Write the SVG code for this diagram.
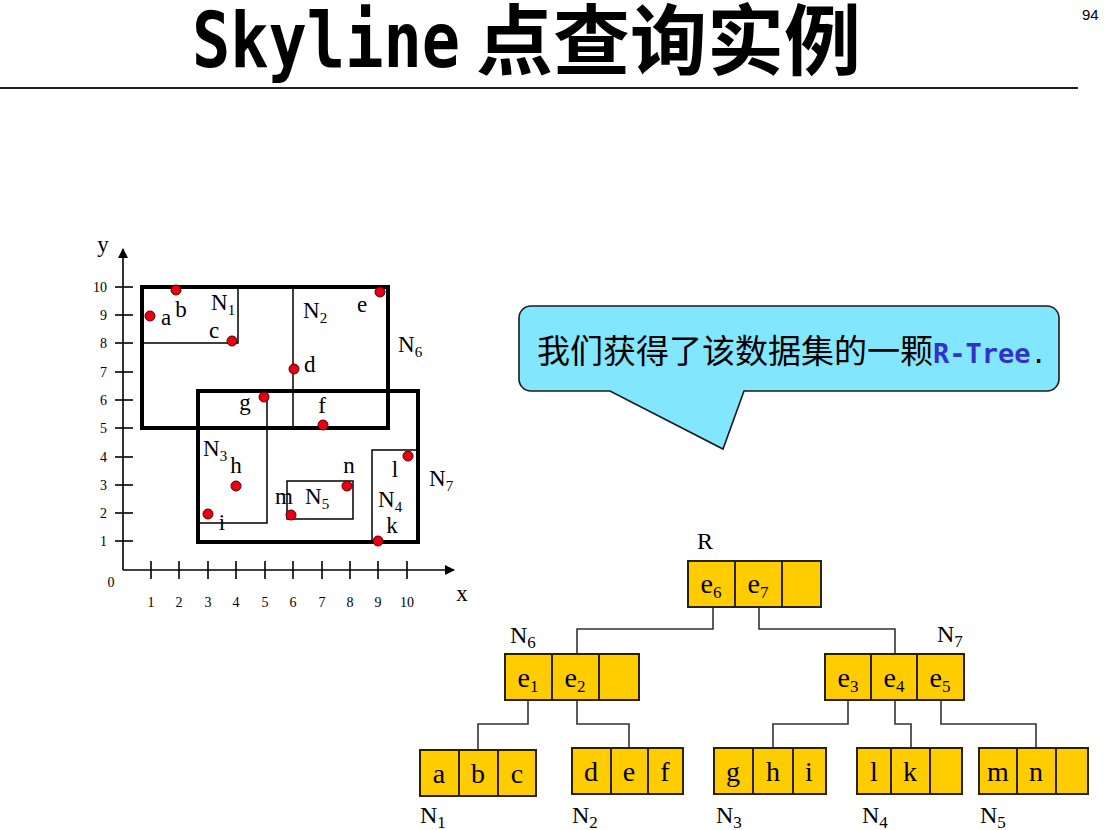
<svg xmlns="http://www.w3.org/2000/svg" width="1116" height="830" viewBox="0 0 1116 830">
<defs>
<style>
.ser{font-family:"Liberation Serif","Times New Roman",serif;fill:#000}
.lbl{font-size:23px}
.tick{font-size:14px}
.sub{font-size:15px}
.tsub{font-size:17px}
.thick{fill:none;stroke:#000;stroke-width:4}
.thin{fill:none;stroke:#000;stroke-width:1.5}
.dot{fill:#e60012;stroke:#5a0000;stroke-width:1}
.cell{fill:#ffcc00;stroke:#2b2200;stroke-width:2}
.conn{fill:none;stroke:#333;stroke-width:1.6}
.big{font-size:28px}
.nl{font-size:24px}
</style>
<marker id="arr" viewBox="0 0 10 10" refX="9" refY="5" markerWidth="10" markerHeight="10" markerUnits="userSpaceOnUse" orient="auto">
<path d="M0,0 L10,5 L0,10 Z" fill="#000"/>
</marker>
</defs>
<rect width="1116" height="830" fill="#fff"/>

<g id="title">
<text x="192" y="67" font-family="DejaVu Sans Mono,monospace" font-weight="bold" font-size="76" textLength="268" lengthAdjust="spacingAndGlyphs">Skyline</text>
<text x="476" y="69" font-family="Noto Sans CJK SC,sans-serif" font-weight="bold" font-size="77">点查询实例</text>
<text x="1082" y="20" font-family="Liberation Sans,Arial,sans-serif" font-size="15">94</text>
<line x1="0" y1="88" x2="1078" y2="88" stroke="#222" stroke-width="2"/>
</g>

<g id="axes">
<line x1="123" y1="570" x2="123" y2="249" stroke="#000" stroke-width="1.6" marker-end="url(#arr)"/>
<line x1="123" y1="570" x2="454" y2="570" stroke="#000" stroke-width="1.6" marker-end="url(#arr)"/>
<g stroke="#000" stroke-width="1.6">
<line x1="115" y1="287" x2="133" y2="287"/><line x1="115" y1="315" x2="133" y2="315"/>
<line x1="115" y1="343" x2="133" y2="343"/><line x1="115" y1="372" x2="133" y2="372"/>
<line x1="115" y1="400" x2="133" y2="400"/><line x1="115" y1="428" x2="133" y2="428"/>
<line x1="115" y1="457" x2="133" y2="457"/><line x1="115" y1="485" x2="133" y2="485"/>
<line x1="115" y1="513" x2="133" y2="513"/><line x1="115" y1="541" x2="133" y2="541"/>
<line x1="151" y1="561" x2="151" y2="579"/><line x1="179" y1="561" x2="179" y2="579"/>
<line x1="208" y1="561" x2="208" y2="579"/><line x1="236" y1="561" x2="236" y2="579"/>
<line x1="265" y1="561" x2="265" y2="579"/><line x1="293" y1="561" x2="293" y2="579"/>
<line x1="322" y1="561" x2="322" y2="579"/><line x1="350" y1="561" x2="350" y2="579"/>
<line x1="378" y1="561" x2="378" y2="579"/><line x1="407" y1="561" x2="407" y2="579"/>
</g>
<g class="ser tick" text-anchor="end">
<text x="107" y="292">10</text><text x="107" y="320">9</text><text x="107" y="348">8</text>
<text x="107" y="377">7</text><text x="107" y="405">6</text><text x="107" y="433">5</text>
<text x="107" y="462">4</text><text x="107" y="490">3</text><text x="107" y="518">2</text>
<text x="107" y="546">1</text>
</g>
<g class="ser tick" text-anchor="middle">
<text x="111" y="587">0</text>
<text x="151" y="607">1</text><text x="179" y="607">2</text><text x="208" y="607">3</text>
<text x="236" y="607">4</text><text x="265" y="607">5</text><text x="293" y="607">6</text>
<text x="322" y="607">7</text><text x="350" y="607">8</text><text x="378" y="607">9</text>
<text x="407" y="607">10</text>
</g>
<text class="ser" font-size="23" x="103" y="252" text-anchor="middle">y</text>
<text class="ser" font-size="23" x="462" y="601" text-anchor="middle">x</text>
</g>

<g id="mbrs">
<rect class="thick" x="142" y="287" width="246" height="141"/>
<rect class="thick" x="198" y="391" width="220" height="151"/>
<path class="thin" d="M142,343 H238 V287"/>
<line class="thin" x1="293" y1="287" x2="293" y2="428"/>
<path class="thin" d="M267,397 V523 H198"/>
<rect class="thin" x="287" y="481" width="66" height="38"/>
<rect class="thin" x="372" y="450" width="46" height="92"/>
</g>

<g id="points">
<circle class="dot" cx="150" cy="316" r="5"/>
<circle class="dot" cx="176" cy="290" r="5"/>
<circle class="dot" cx="232" cy="341" r="5"/>
<circle class="dot" cx="294" cy="369" r="5"/>
<circle class="dot" cx="380" cy="292" r="5"/>
<circle class="dot" cx="323" cy="425" r="5"/>
<circle class="dot" cx="264" cy="397" r="5"/>
<circle class="dot" cx="236" cy="486" r="5"/>
<circle class="dot" cx="208" cy="514" r="5"/>
<circle class="dot" cx="291" cy="515" r="5"/>
<circle class="dot" cx="347" cy="486" r="5"/>
<circle class="dot" cx="408" cy="456" r="5"/>
<circle class="dot" cx="378" cy="541" r="5"/>
</g>

<g id="plot-labels" class="ser lbl">
<text x="166" y="325" text-anchor="middle">a</text>
<text x="181" y="317" text-anchor="middle">b</text>
<text x="211" y="310">N<tspan class="sub" dy="5">1</tspan></text>
<text x="214" y="338" text-anchor="middle">c</text>
<text x="303" y="318">N<tspan class="sub" dy="5">2</tspan></text>
<text x="362" y="312" text-anchor="middle">e</text>
<text x="304" y="372">d</text>
<text x="245" y="410" text-anchor="middle">g</text>
<text x="322" y="413" text-anchor="middle">f</text>
<text x="398" y="352">N<tspan class="sub" dy="5">6</tspan></text>
<text x="203" y="456">N<tspan class="sub" dy="5">3</tspan></text>
<text x="236" y="473" text-anchor="middle">h</text>
<text x="222" y="530" text-anchor="middle">i</text>
<text x="284" y="504" text-anchor="middle">m</text>
<text x="305" y="504">N<tspan class="sub" dy="5">5</tspan></text>
<text x="349" y="473" text-anchor="middle">n</text>
<text x="395" y="477" text-anchor="middle">l</text>
<text x="378" y="507">N<tspan class="sub" dy="5">4</tspan></text>
<text x="392" y="533" text-anchor="middle">k</text>
<text x="429" y="486">N<tspan class="sub" dy="5">7</tspan></text>
</g>

<g id="callout">
<path d="M531,306 H1047 A12,12 0 0 1 1059,318 V379 A12,12 0 0 1 1047,391 H744 L723,449 L610,391 H531 A12,12 0 0 1 519,379 V318 A12,12 0 0 1 531,306 Z" fill="#82e6fc" stroke="#1a1a1a" stroke-width="1.6"/>
<text x="537" y="363" font-family="Noto Sans CJK SC,sans-serif" font-size="33" fill="#000">我们获得了该数据集的一颗<tspan font-family="DejaVu Sans Mono,monospace" font-weight="bold" font-size="27" fill="#3232c8">R-Tree</tspan><tspan font-family="DejaVu Sans Mono,monospace" font-size="27">.</tspan></text>
</g>

<g id="connectors">
<path class="conn" d="M713,607 V629 H577 V654"/>
<path class="conn" d="M759,607 V629 H895 V654"/>
<path class="conn" d="M528,700 V724 H478 V750"/>
<path class="conn" d="M577,700 V724 H629 V748"/>
<path class="conn" d="M848,700 V724 H773 V748"/>
<path class="conn" d="M895,700 V724 H911 V748"/>
<path class="conn" d="M941,700 V724 H1036 V748"/>
</g>

<g id="node-R">
<rect class="cell" x="688" y="561" width="47" height="46"/>
<rect class="cell" x="735" y="561" width="47" height="46"/>
<rect class="cell" x="782" y="561" width="39" height="46"/>
<text class="ser big" x="711" y="593" text-anchor="middle">e<tspan class="tsub" dy="5">6</tspan></text>
<text class="ser big" x="758" y="593" text-anchor="middle">e<tspan class="tsub" dy="5">7</tspan></text>
<text class="ser nl" x="705" y="549" text-anchor="middle">R</text>
</g>

<g id="node-N6">
<rect class="cell" x="505" y="654" width="47" height="46"/>
<rect class="cell" x="552" y="654" width="47" height="46"/>
<rect class="cell" x="599" y="654" width="40" height="46"/>
<text class="ser big" x="528" y="687" text-anchor="middle">e<tspan class="tsub" dy="5">1</tspan></text>
<text class="ser big" x="575" y="687" text-anchor="middle">e<tspan class="tsub" dy="5">2</tspan></text>
<text class="ser nl" x="510" y="643">N<tspan class="tsub" dy="5">6</tspan></text>
</g>

<g id="node-N7">
<rect class="cell" x="825" y="654" width="46" height="46"/>
<rect class="cell" x="871" y="654" width="46" height="46"/>
<rect class="cell" x="917" y="654" width="47" height="46"/>
<text class="ser big" x="848" y="687" text-anchor="middle">e<tspan class="tsub" dy="5">3</tspan></text>
<text class="ser big" x="894" y="687" text-anchor="middle">e<tspan class="tsub" dy="5">4</tspan></text>
<text class="ser big" x="940" y="687" text-anchor="middle">e<tspan class="tsub" dy="5">5</tspan></text>
<text class="ser nl" x="937" y="642">N<tspan class="tsub" dy="5">7</tspan></text>
</g>

<g id="leaf-N1">
<rect class="cell" x="420" y="750" width="39" height="46"/>
<rect class="cell" x="459" y="750" width="39" height="46"/>
<rect class="cell" x="498" y="750" width="38" height="46"/>
<text class="ser big" x="439" y="783" text-anchor="middle">a</text>
<text class="ser big" x="478" y="783" text-anchor="middle">b</text>
<text class="ser big" x="517" y="783" text-anchor="middle">c</text>
<text class="ser nl" x="420" y="823">N<tspan class="tsub" dy="5">1</tspan></text>
</g>

<g id="leaf-N2">
<rect class="cell" x="572" y="748" width="39" height="46"/>
<rect class="cell" x="611" y="748" width="37" height="46"/>
<rect class="cell" x="648" y="748" width="35" height="46"/>
<text class="ser big" x="591" y="781" text-anchor="middle">d</text>
<text class="ser big" x="629" y="781" text-anchor="middle">e</text>
<text class="ser big" x="665" y="781" text-anchor="middle">f</text>
<text class="ser nl" x="572" y="823">N<tspan class="tsub" dy="5">2</tspan></text>
</g>

<g id="leaf-N3">
<rect class="cell" x="714" y="748" width="39" height="46"/>
<rect class="cell" x="753" y="748" width="40" height="46"/>
<rect class="cell" x="793" y="748" width="33" height="46"/>
<text class="ser big" x="733" y="781" text-anchor="middle">g</text>
<text class="ser big" x="773" y="781" text-anchor="middle">h</text>
<text class="ser big" x="809" y="781" text-anchor="middle">i</text>
<text class="ser nl" x="716" y="823">N<tspan class="tsub" dy="5">3</tspan></text>
</g>

<g id="leaf-N4">
<rect class="cell" x="857" y="748" width="34" height="46"/>
<rect class="cell" x="891" y="748" width="39" height="46"/>
<rect class="cell" x="930" y="748" width="32" height="46"/>
<text class="ser big" x="874" y="781" text-anchor="middle">l</text>
<text class="ser big" x="910" y="781" text-anchor="middle">k</text>
<text class="ser nl" x="862" y="823">N<tspan class="tsub" dy="5">4</tspan></text>
</g>

<g id="leaf-N5">
<rect class="cell" x="979" y="748" width="38" height="46"/>
<rect class="cell" x="1017" y="748" width="39" height="46"/>
<rect class="cell" x="1056" y="748" width="32" height="46"/>
<text class="ser big" x="998" y="781" text-anchor="middle">m</text>
<text class="ser big" x="1036" y="781" text-anchor="middle">n</text>
<text class="ser nl" x="980" y="823">N<tspan class="tsub" dy="5">5</tspan></text>
</g>
</svg>
